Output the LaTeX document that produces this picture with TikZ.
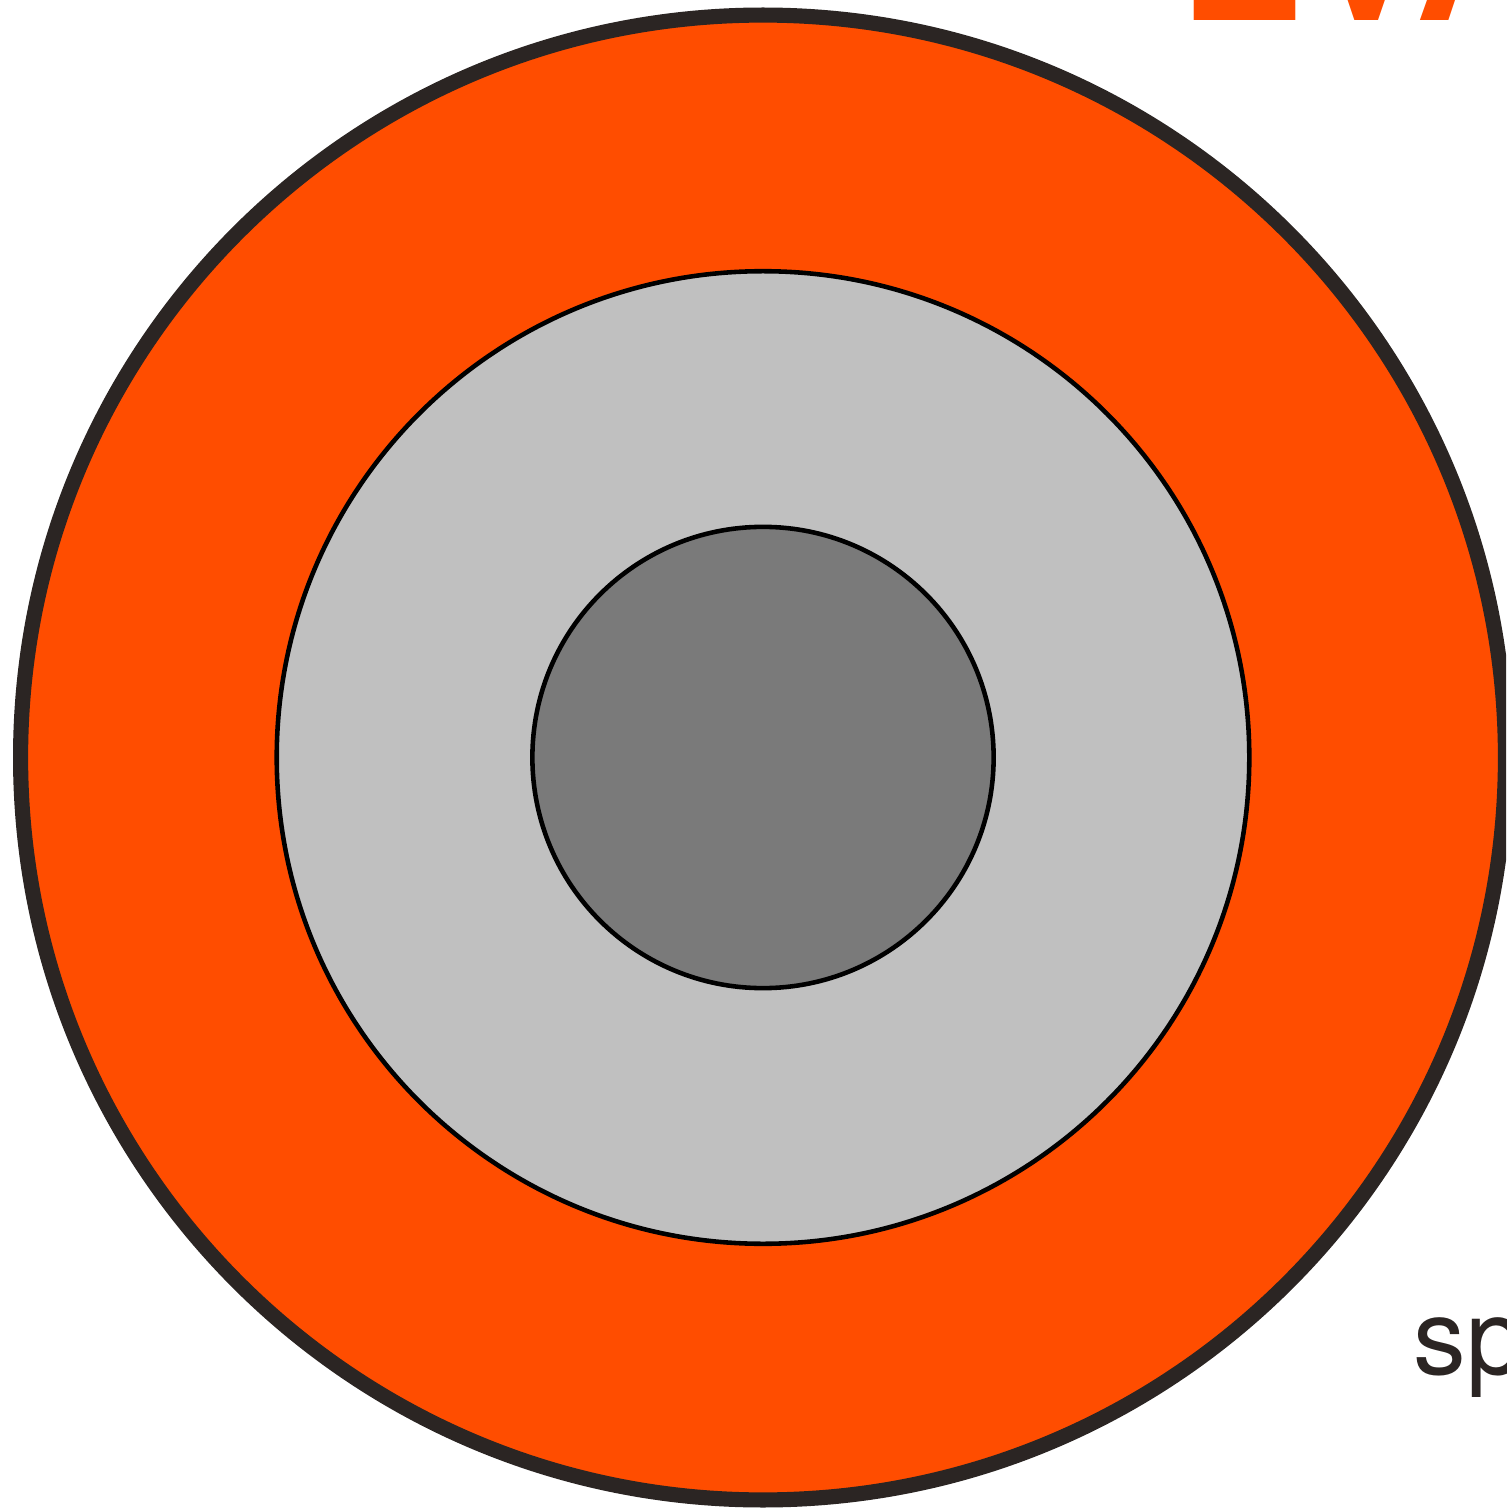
\documentclass[tikz,border=0pt]{standalone}
\usepackage{fontspec}
\setmainfont{TeX Gyre Heros}
\definecolor{evaorange}{RGB}{255,77,0}
\definecolor{jacket}{RGB}{43,37,35}
\definecolor{insul}{RGB}{192,192,192}
\definecolor{wire}{RGB}{122,122,122}
\begin{document}
\begin{tikzpicture}[x=0.01cm, y=-0.01cm,
  layer/.style={circle, draw, inner sep=0pt, line width=1.3pt}]
  \clip (0,0) rectangle (1506,1510);
  % outer sheath
  \node[layer, fill=evaorange, draw=jacket, line width=4.3pt, minimum size=14.84cm] (sheath) at (763,757.5) {};
  % insulation
  \node[layer, fill=insul, minimum size=9.72cm] (insulation) at (sheath.center) {};
  % conductor
  \node[layer, fill=wire, minimum size=4.61cm] (conductor) at (sheath.center) {};
  % labels
  \node[anchor=base west, inner sep=0pt, text=evaorange, font=\fontsize{53}{53}\selectfont\bfseries] (eva) at (1179,21) {EVA};
  \node[anchor=base west, inner sep=0pt, text=jacket, font=\fontsize{30}{30}\selectfont] (spec) at (1413,1374) {sp};
\end{tikzpicture}
\end{document}
